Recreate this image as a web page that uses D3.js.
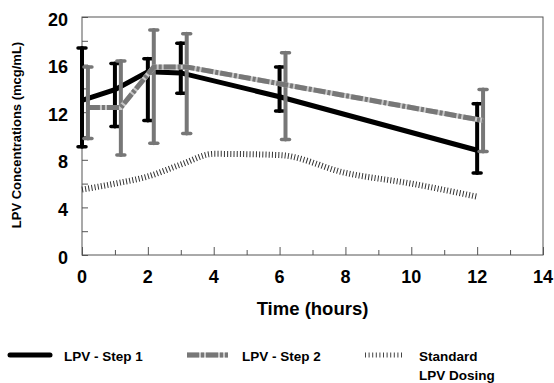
<!DOCTYPE html>
<html>
<head>
<meta charset="utf-8">
<script src="https://cdn.jsdelivr.net/npm/d3@7"></script>
<style>
  body { margin: 0; background: #fff; }
  text { font-family: "Liberation Sans", Arial, sans-serif; font-weight: bold; }
</style>
</head>
<body>
<svg width="554" height="383"></svg>
<script>
// Mean concentrations and error bars (mcg/mL)
const times = [0, 1, 2, 3, 6, 12];
const step1Mean = [13.0, 13.9, 15.4, 15.3, 13.3, 8.8];
const step1Low = [9.1, 10.8, 11.3, 13.6, 12.1, 6.9];
const step1High = [17.4, 16.1, 16.5, 17.8, 15.8, 12.7];
const step2Mean = [12.4, 12.4, 15.8, 15.8, 14.3, 11.3];
const step2Low = [9.8, 8.4, 9.4, 10.2, 9.7, 8.7];
const step2High = [15.8, 16.3, 18.9, 18.6, 17.0, 13.9];
const stdTimes = [0, 1, 2, 3, 4, 6, 8, 10, 12];
const stdMean = [5.5, 6.0, 6.6, 7.6, 8.5, 8.4, 6.9, 6.0, 4.9];
const xTicks = [0, 2, 4, 6, 8, 10, 12, 14];
const yTicks = [0, 4, 8, 12, 16, 20];

const svg = d3.select('svg');
const plotLeft = 82, plotRight = 543, plotTop = 17, plotBottom = 255;
const offset = 0.18; // step 2 drawn a little to the right

const x = d3.scaleLinear().domain([0, 14]).range([plotLeft, plotRight]);
const y = d3.scaleLinear().domain([0, 20]).range([plotBottom, plotTop]);

// frame
svg.append('rect')
    .attr('x', plotLeft).attr('y', plotTop)
    .attr('width', plotRight - plotLeft).attr('height', plotBottom - plotTop)
    .attr('fill', 'none').attr('stroke', '#555').attr('stroke-width', 1);

// x axis: minor ticks every hour, labels every 2
const xAxis = svg.append('g').attr('transform', `translate(0,${plotBottom})`);
xAxis.call(d3.axisBottom(x).tickValues(d3.range(0, 15)).tickSize(0).tickFormat(''))
    .call(g => g.select('.domain').remove());
xAxis.selectAll('.tick line')
    .attr('y2', d => (d % 2 === 0 ? -8 : -5))
    .attr('stroke', '#555');
svg.append('g').selectAll('text').data(xTicks).enter().append('text')
    .attr('x', d => x(d)).attr('y', 283)
    .attr('text-anchor', 'middle')
    .attr('font-size', 18)
    .text(d => d);

// y axis
const yAxis = svg.append('g').attr('transform', `translate(${plotLeft},0)`);
yAxis.call(d3.axisLeft(y).tickValues(d3.range(0, 21, 2)).tickSize(0).tickFormat(''))
    .call(g => g.select('.domain').remove());
yAxis.selectAll('.tick line').attr('x2', 6).attr('stroke', '#555');
svg.append('g').selectAll('text').data(yTicks).enter().append('text')
    .attr('x', 68).attr('y', d => y(d) + 8.5)
    .attr('text-anchor', 'end')
    .attr('font-size', 18)
    .text(d => d);

svg.append('text')
    .attr('transform', `translate(21,135) rotate(-90)`)
    .attr('text-anchor', 'middle')
    .attr('font-size', 13)
    .text('LPV Concentrations (mcg/mL)');

svg.append('text')
    .attr('x', (plotLeft + plotRight) / 2).attr('y', 315)
    .attr('text-anchor', 'middle')
    .attr('font-size', 18.5)
    .text('Time (hours)');

// standard dosing curve
const stdLine = d3.line().x((d, i) => x(stdTimes[i])).y(d => y(d)).curve(d3.curveMonotoneX);
svg.append('path')
    .attr('d', stdLine(stdMean))
    .attr('fill', 'none').attr('stroke', '#333')
    .attr('stroke-width', 6).attr('stroke-dasharray', '1,2.2');

// error bars
function errorBars(low, high, dx, color, width) {
    const g = svg.append('g').attr('stroke', color).attr('stroke-linecap', 'round');
    times.forEach((t, i) => {
        const cx = x(t + dx);
        g.append('line').attr('x1', cx).attr('x2', cx)
            .attr('y1', y(low[i])).attr('y2', y(high[i]))
            .attr('stroke-width', width);
        [low[i], high[i]].forEach(v => {
            g.append('line').attr('x1', cx - 4).attr('x2', cx + 4)
                .attr('y1', y(v)).attr('y2', y(v))
                .attr('stroke-width', 3.5);
        });
    });
}

const step1Line = d3.line().x((d, i) => x(times[i])).y(d => y(d));
const step2Line = d3.line().x((d, i) => x(times[i] + offset)).y(d => y(d));

errorBars(step1Low, step1High, 0, '#000', 4);
svg.append('path')
    .attr('d', step1Line(step1Mean))
    .attr('fill', 'none').attr('stroke', '#000').attr('stroke-width', 5);

errorBars(step2Low, step2High, offset, '#777', 4);
svg.append('path')
    .attr('d', step2Line(step2Mean))
    .attr('fill', 'none').attr('stroke', '#c8c8c8').attr('stroke-width', 5);
svg.append('path')
    .attr('d', step2Line(step2Mean))
    .attr('fill', 'none').attr('stroke', '#777').attr('stroke-width', 5)
    .attr('stroke-dasharray', '12,2,3,2');

// legend
const legend = svg.append('g');
legend.append('line').attr('x1', 10).attr('x2', 50).attr('y1', 355).attr('y2', 355)
    .attr('stroke', '#000').attr('stroke-width', 5).attr('stroke-linecap', 'round');
legend.append('text').attr('x', 64).attr('y', 361).attr('font-size', 13.5).text('LPV - Step 1');

legend.append('line').attr('x1', 187).attr('x2', 228).attr('y1', 355).attr('y2', 355)
    .attr('stroke', '#c8c8c8').attr('stroke-width', 5);
legend.append('line').attr('x1', 187).attr('x2', 228).attr('y1', 355).attr('y2', 355)
    .attr('stroke', '#777').attr('stroke-width', 5).attr('stroke-dasharray', '12,2,3,2');
legend.append('text').attr('x', 242).attr('y', 361).attr('font-size', 13.5).text('LPV - Step 2');

legend.append('line').attr('x1', 365).attr('x2', 403).attr('y1', 355).attr('y2', 355)
    .attr('stroke', '#444').attr('stroke-width', 5).attr('stroke-dasharray', '1,2.6');
legend.append('text').attr('x', 419).attr('y', 361).attr('font-size', 13.5).text('Standard');
legend.append('text').attr('x', 419).attr('y', 380).attr('font-size', 13.5).text('LPV Dosing');
</script>
</body>
</html>
